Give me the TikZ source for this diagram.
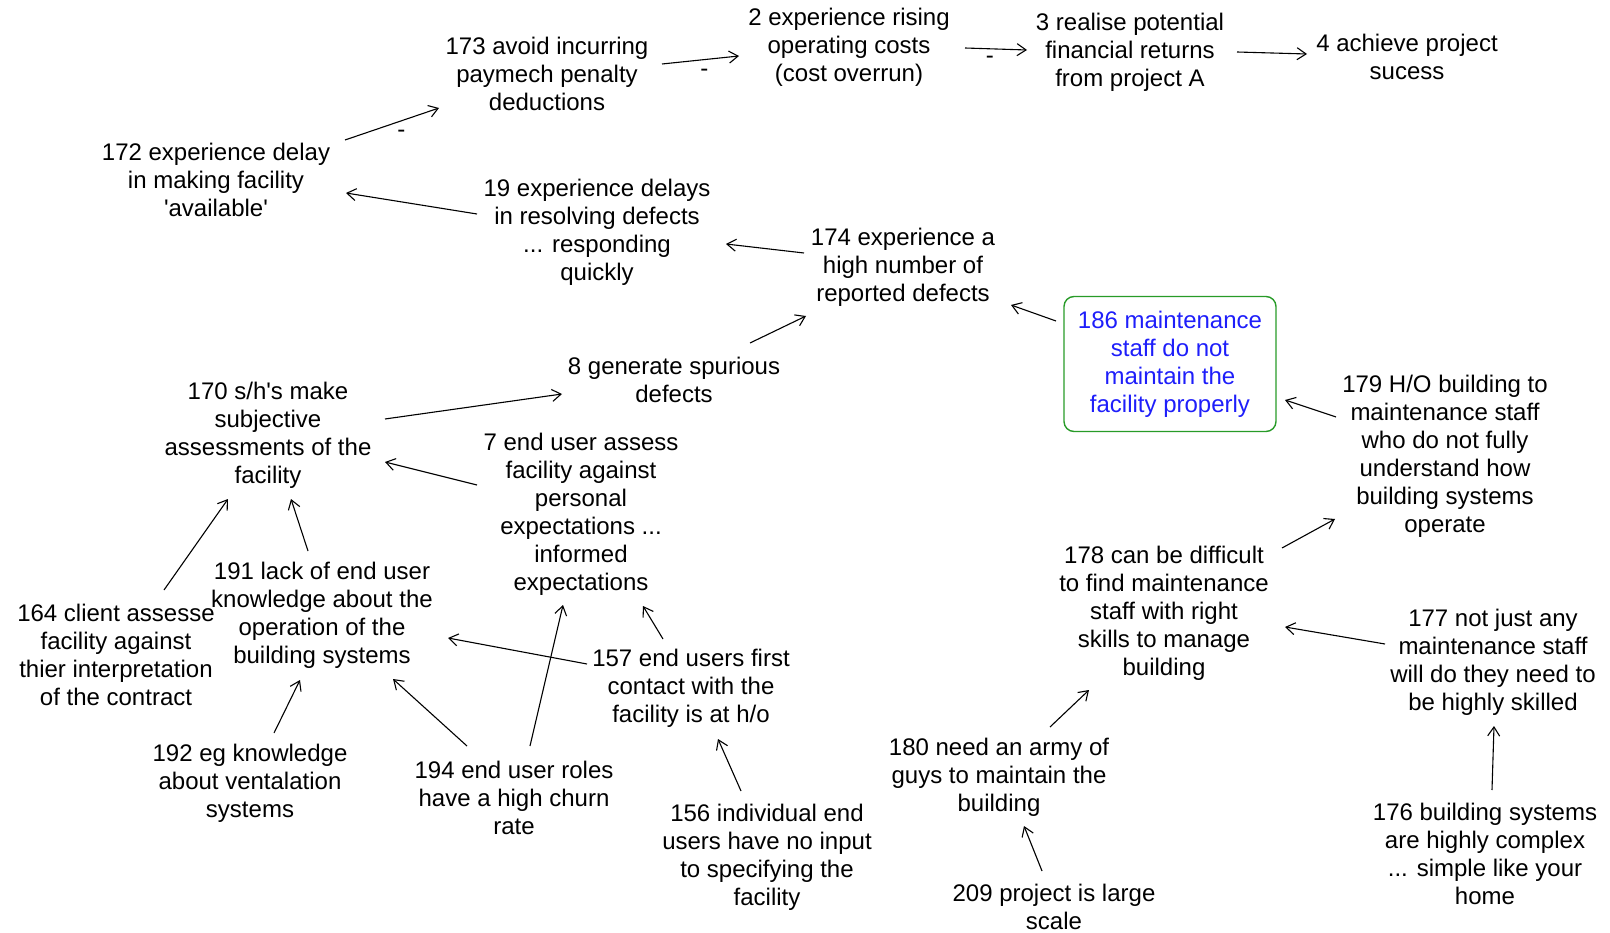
\documentclass[tikz,border=0pt]{standalone}
\usepackage{fontspec}
\setmainfont{Liberation Sans}
\usetikzlibrary{arrows.meta}
\definecolor{boxgreen}{RGB}{40,155,40}
\definecolor{boxblue}{RGB}{30,30,250}
\begin{document}
\begin{tikzpicture}[x=1pt,y=-1pt,
  concept/.style={align=center, inner sep=0pt, font=\fontsize{24}{28}\selectfont},
  focus/.style={concept, draw=boxgreen, text=boxblue, line width=1.4pt,
    rounded corners=10pt, minimum width=212pt, minimum height=135pt},
  link/.style={draw=black, line width=1.1pt, -{Straight Barb[length=9pt,width=12pt]}},
  neg/.style={font=\fontsize{24}{24}\selectfont, inner sep=0pt}]
\useasboundingbox (0,0) rectangle (1610,933);

% concepts
\node[concept] (n2)   at (849,47)   {2 experience rising\\operating costs\\(cost overrun)};
\node[concept] (n173) at (547,74)   {173 avoid incurring\\paymech penalty\\deductions};
\node[concept] (n3)   at (1130,52)  {3 realise potential\\financial returns\\from project A};
\node[concept] (n4)   at (1407,57)  {4 achieve project\\sucess};
\node[concept] (n172) at (216,180)  {172 experience delay\\in making facility\\\textquotesingle available\textquotesingle};
\node[concept] (n19)  at (597,232)  {19 experience delays\\in resolving defects\\... responding\\quickly};
\node[concept] (n174) at (903,267)  {174 experience a\\high number of\\reported defects};
\node[focus]   (n186) at (1170,364) {186 maintenance\\staff do not\\maintain the\\facility properly};
\node[concept] (n8)   at (674,380)  {8 generate spurious\\defects};
\node[concept] (n170) at (268,435)  {170 s/h\textquotesingle s make\\subjective\\assessments of the\\facility};
\node[concept] (n7)   at (581,514)  {7 end user assess\\facility against\\personal\\expectations ...\\informed\\expectations};
\node[concept] (n179) at (1445,456) {179 H/O building to\\maintenance staff\\who do not fully\\understand how\\building systems\\operate};
\node[concept] (n191) at (322,615)  {191 lack of end user\\knowledge about the\\operation of the\\building systems};
\node[concept] (n164) at (116,655)  {164 client assesse\\facility against\\thier interpretation\\of the contract};
\node[concept] (n178) at (1164,613) {178 can be difficult\\to find maintenance\\staff with right\\skills to manage\\building};
\node[concept] (n177) at (1493,662) {177 not just any\\maintenance staff\\will do they need to\\be highly skilled};
\node[concept] (n157) at (691,688)  {157 end users first\\contact with the\\facility is at h/o};
\node[concept] (n192) at (250,783)  {192 eg knowledge\\about ventalation\\systems};
\node[concept] (n194) at (514,798)  {194 end user roles\\have a high churn\\rate};
\node[concept] (n180) at (999,777)  {180 need an army of\\guys to maintain the\\building};
\node[concept] (n156) at (767,857)  {156 individual end\\users have no input\\to specifying the\\facility};
\node[concept] (n176) at (1485,854) {176 building systems\\are highly complex\\... simple like your\\home};
\node[concept] (n209) at (1054,907) {209 project is large\\scale};

% links
\draw[link] ([shift={(129,-40)}]n172.center) -- ([shift={(-108,34)}]n173.center)
  node[neg, pos=0.6, yshift=-13pt] {-};
\draw[link] ([shift={(115,-10)}]n173.center) -- ([shift={(-110,9)}]n2.center)
  node[neg, pos=0.55, yshift=-13pt] {-};
\draw[link] ([shift={(116,1)}]n2.center) -- ([shift={(-103,-2)}]n3.center)
  node[neg, pos=0.4, yshift=-11pt] {-};
\draw[link] ([shift={(107,0)}]n3.center) -- ([shift={(-100,-3)}]n4.center);
\draw[link] ([shift={(-120,-18)}]n19.center) -- ([shift={(130,13)}]n172.center);
\draw[link] ([shift={(-99,-14)}]n174.center) -- ([shift={(129,12)}]n19.center);
\draw[link] ([shift={(-114,-43)}]n186.center) -- ([shift={(108,38)}]n174.center);
\draw[link] ([shift={(76,-37)}]n8.center) -- ([shift={(-97,49)}]n174.center);
\draw[link] ([shift={(117,-16)}]n170.center) -- ([shift={(-112,14)}]n8.center);
\draw[link] ([shift={(-104,-29)}]n7.center) -- ([shift={(117,27)}]n170.center);
\draw[link] ([shift={(-109,-39)}]n179.center) -- ([shift={(115,36)}]n186.center);
\draw[link] ([shift={(118,-65)}]n178.center) -- ([shift={(-110,63)}]n179.center);
\draw[link] ([shift={(48,-65)}]n164.center) -- ([shift={(-40,64)}]n170.center);
\draw[link] ([shift={(-14,-64)}]n191.center) -- ([shift={(23,64)}]n170.center);
\draw[link] ([shift={(-104,-24)}]n157.center) -- ([shift={(126,23)}]n191.center);
\draw[link] ([shift={(16,-52)}]n194.center) -- ([shift={(-18,91)}]n7.center);
\draw[link] ([shift={(-28,-49)}]n157.center) -- ([shift={(62,92)}]n7.center);
\draw[link] ([shift={(24,-50)}]n192.center) -- ([shift={(-22,65)}]n191.center);
\draw[link] ([shift={(-47,-52)}]n194.center) -- ([shift={(71,64)}]n191.center);
\draw[link] ([shift={(-26,-66)}]n156.center) -- ([shift={(27,51)}]n157.center);
\draw[link] ([shift={(-108,-18)}]n177.center) -- ([shift={(121,14)}]n178.center);
\draw[link] ([shift={(51,-50)}]n180.center) -- ([shift={(-75,77)}]n178.center);
\draw[link] ([shift={(-12,-36)}]n209.center) -- ([shift={(25,49)}]n180.center);
\draw[link] ([shift={(7,-64)}]n176.center) -- ([shift={(1,64)}]n177.center);
\end{tikzpicture}
\end{document}
